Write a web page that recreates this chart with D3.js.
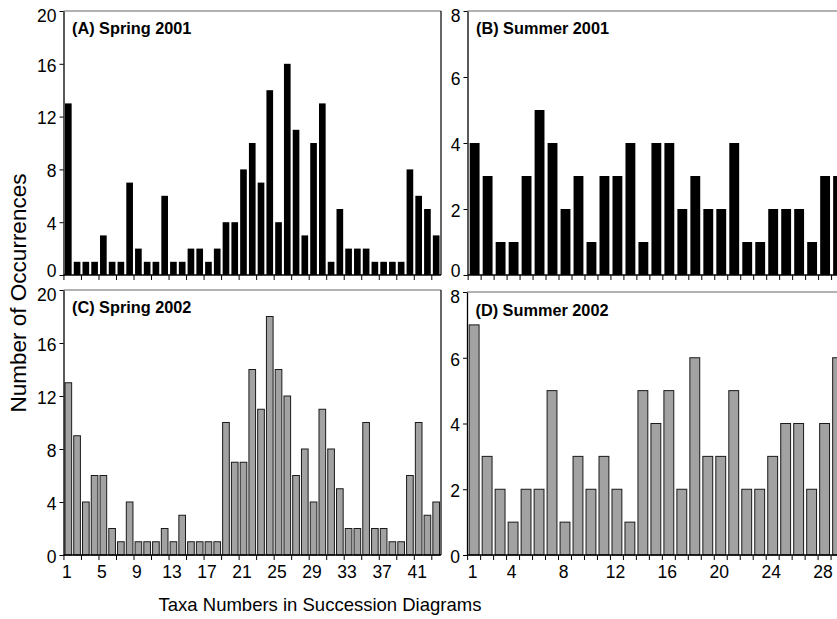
<!DOCTYPE html>
<html>
<head>
<meta charset="utf-8">
<script src="https://cdn.jsdelivr.net/npm/d3@7"></script>
<style>
  html, body { margin: 0; padding: 0; background: #fff; }
  svg { display: block; }
  text { font-family: "Liberation Sans", Arial, sans-serif; fill: #000; }
</style>
</head>
<body>
<svg id="chart" width="837" height="619"></svg>
<script>
// ---- data ----
const taxaSpring = d3.range(1, 44);           // taxa 1..43
const taxaSummer = d3.range(1, 30);           // taxa 1..29 visible
const spring2001 = [13,1,1,1,3,1,1,7,2,1, 1,6,1,1,2,2,1,2,4,4, 8,10,7,14,4,16,11,3,10,13, 1,5,2,2,2,1,1,1,1,8, 6,5,3];
const summer2001 = [4,3,1,1,3,5,4,2,3,1, 3,3,4,1,4,4,2,3,2,2, 4,1,1,2,2,2,1,3,3];
const spring2002 = [13,9,4,6,6,2,1,4,1,1, 1,2,1,3,1,1,1,1,10,7, 7,14,11,18,14,12,6,8,4,11, 8,5,2,2,10,2,2,1,1,6, 10,3,4];
const summer2002 = [7,3,2,1,2,2,5,1,3,2, 3,2,1,5,4,5,2,6,3,3, 5,2,2,3,4,4,2,4,6];
const springYTicks = [0,4,8,12,16,20];
const summerYTicks = [0,2,4,6,8];
const springXLabels = [1,5,9,13,17,21,25,29,33,37,41];
const summerXLabels = [1,4,8,12,16,20,24,28];
const panelTitles = ["(A) Spring 2001","(B) Summer 2001","(C) Spring 2002","(D) Summer 2002"];

// ---- layout ----
const svg = d3.select("#chart");
const PI = 0.24, PO = 0.17;

const panels = [
  {title: panelTitles[0], taxa: taxaSpring, values: spring2001, yMax: 20, yTicks: springYTicks, topRow: true,
   left: 63.5, right: 441, top: 11, bottom: 275, fill: "#000", stroke: "none", tickEvery: 2, labels: null, titleY: 33.5},
  {title: panelTitles[1], taxa: taxaSummer, values: summer2001, yMax: 8, yTicks: summerYTicks, topRow: true,
   left: 467.5, step: 12.98, top: 11, bottom: 275, fill: "#000", stroke: "none", tickEvery: 1, labels: null, titleY: 33.5},
  {title: panelTitles[2], taxa: taxaSpring, values: spring2002, yMax: 20, yTicks: springYTicks, topRow: false,
   left: 63.5, right: 441, top: 290, bottom: 555, fill: "#a2a2a2", stroke: "#1a1a1a", tickEvery: 2, labels: springXLabels, titleY: 313},
  {title: panelTitles[3], taxa: taxaSummer, values: summer2002, yMax: 8, yTicks: summerYTicks, topRow: false,
   left: 467, step: 12.98, top: 292, bottom: 555, fill: "#a2a2a2", stroke: "#1a1a1a", tickEvery: 1, labels: summerXLabels, titleY: 316}
];

panels.forEach(p => {
  const n = p.taxa.length;
  const right = p.right !== undefined ? p.right : p.left + p.step * (n - PI + 2 * PO);
  const x = d3.scaleBand().domain(p.taxa).range([p.left, right]).paddingInner(PI).paddingOuter(PO);
  const y = d3.scaleLinear().domain([0, p.yMax]).range([p.bottom, p.top]);
  const g = svg.append("g");
  const half = x.step() * PI / 2;

  // frame: top (grey) and right border
  g.append("line").attr("x1", p.left).attr("x2", right).attr("y1", p.top).attr("y2", p.top)
    .attr("stroke", "#666").attr("stroke-width", 1.2);
  g.append("line").attr("x1", right).attr("x2", right).attr("y1", p.top).attr("y2", p.bottom)
    .attr("stroke", "#000").attr("stroke-width", 1.2);

  // bars
  g.selectAll("rect.bar").data(p.taxa.map((t, i) => ({t, v: p.values[i]})))
    .join("rect").attr("class", "bar")
    .attr("x", d => x(d.t))
    .attr("width", x.bandwidth())
    .attr("y", d => y(d.v))
    .attr("height", d => y(0) - y(d.v))
    .attr("fill", p.fill)
    .attr("stroke", p.stroke)
    .attr("stroke-width", p.stroke === "none" ? 0 : 1);

  // y axis
  const yAxis = d3.axisLeft(y).tickValues(p.yTicks).tickSize(4).tickSizeOuter(0).tickPadding(3);
  const ya = g.append("g").attr("transform", `translate(${p.left},0)`).call(yAxis);
  ya.select(".domain").attr("stroke", "#000").attr("stroke-width", 1.3);
  ya.selectAll(".tick line").attr("stroke", "#000");
  ya.selectAll(".tick text").attr("font-size", 17.5).attr("font-family", "Liberation Sans, Arial, sans-serif")
    .attr("dy", "0.42em")
    .attr("y", d => d === p.yMax ? 3 : (d === 0 && p.topRow ? -6 : 0));

  // x axis line
  g.append("line").attr("x1", p.left).attr("x2", right).attr("y1", p.bottom).attr("y2", p.bottom)
    .attr("stroke", "#000").attr("stroke-width", 1.3);
  // ticks between bars
  const tickTaxa = p.taxa.filter((t, i) => i % p.tickEvery === 0);
  g.selectAll("line.xt").data(tickTaxa).join("line").attr("class", "xt")
    .attr("x1", d => x(d) - half).attr("x2", d => x(d) - half)
    .attr("y1", p.bottom).attr("y2", p.bottom + 5)
    .attr("stroke", "#000").attr("stroke-width", 1);
  // labels
  if (p.labels) {
    g.selectAll("text.xl").data(p.labels).join("text").attr("class", "xl")
      .attr("x", d => x(d) + x.bandwidth() / 2 - 1.5)
      .attr("y", 578)
      .attr("text-anchor", "middle")
      .attr("font-size", 17.5)
      .text(d => d);
  }

  // panel title
  g.append("text").attr("x", p.left + 8.5).attr("y", p.titleY)
    .attr("font-size", 16.3).attr("font-weight", "bold").text(p.title);
});

// axis titles
svg.append("text").attr("transform", "translate(26,293) rotate(-90)")
  .attr("text-anchor", "middle").attr("font-size", 22.5).text("Number of Occurrences");
svg.append("text").attr("x", 320).attr("y", 611)
  .attr("text-anchor", "middle").attr("font-size", 18.5).text("Taxa Numbers in Succession Diagrams");
</script>
</body>
</html>
